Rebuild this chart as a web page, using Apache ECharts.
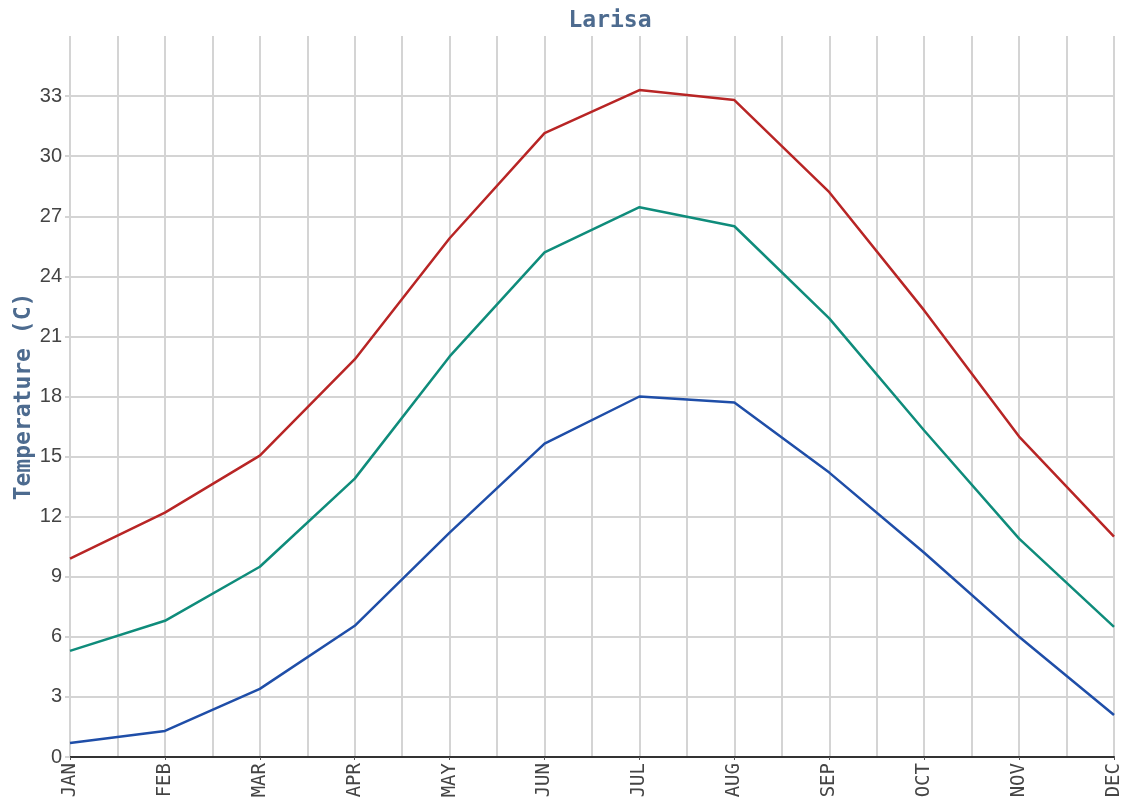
<!DOCTYPE html>
<html>
<head>
<meta charset="utf-8">
<script src="https://cdn.jsdelivr.net/npm/echarts@6/dist/echarts.min.js"></script>
<style>
html,body{margin:0;padding:0;background:#fff;}
#chart{width:1126px;height:805px;}
</style>
</head>
<body>
<div id="chart"></div>
<script>
var months = ['JAN','FEB','MAR','APR','MAY','JUN','JUL','AUG','SEP','OCT','NOV','DEC'];
var maxTemp  = [9.9, 12.2, 15.05, 19.85, 25.9, 31.15, 33.3, 32.8, 28.2, 22.3, 16.0, 11.0];
var meanTemp = [5.3, 6.8, 9.5, 13.9, 20.0, 25.2, 27.45, 26.5, 21.9, 16.3, 10.9, 6.5];
var minTemp  = [0.7, 1.3, 3.4, 6.55, 11.2, 15.65, 18.0, 17.7, 14.2, 10.2, 6.0, 2.1];

function pairs(arr){ return arr.map(function(v,i){ return [i, v]; }); }

var chart = echarts.init(document.getElementById('chart'));
var gridColor = '#d4d4d4';
chart.setOption({
  animation: false,
  backgroundColor: '#ffffff',
  title: {
    text: 'Larisa',
    left: 605,
    top: 5,
    textAlign: 'center',
    textStyle: {fontFamily: 'DejaVu Sans Mono', fontWeight: 'bold', fontSize: 23, color: '#4d6b8f'}
  },
  grid: {left: 70, right: 12, top: 36, bottom: 48, outerBoundsMode: 'none', containLabel: false},
  xAxis: {
    type: 'value',
    min: 0, max: 11, interval: 1,
    axisLine: {show: true, onZero: false, lineStyle: {color: '#333', width: 2}},
    axisTick: {show: true, length: 3, lineStyle: {color: '#555'}},
    minorTick: {show: false, splitNumber: 2},
    splitLine: {show: true, lineStyle: {color: gridColor, width: 2}},
    minorSplitLine: {show: true, lineStyle: {color: gridColor, width: 2}},
    axisLabel: {
      rotate: 90, margin: 6,
      fontFamily: 'DejaVu Sans Mono', fontSize: 19, color: '#444',
      formatter: function(v){ return months[Math.round(v)] || ''; }
    }
  },
  yAxis: {
    type: 'value',
    min: 0, max: 36, interval: 3,
    name: 'Temperature (C)',
    nameLocation: 'middle',
    nameGap: 34,
    nameMoveOverlap: false,
    nameTextStyle: {fontFamily: 'DejaVu Sans Mono', fontWeight: 'bold', fontSize: 23, color: '#4d6b8f'},
    axisLine: {show: false},
    axisTick: {show: true, length: 5, lineStyle: {color: gridColor, width: 2}},
    splitLine: {show: true, showMaxLine: false, lineStyle: {color: gridColor, width: 2}},
    axisLabel: {showMaxLabel: false, margin: 8, fontFamily: 'Liberation Sans', fontSize: 20, color: '#444'}
  },
  series: [
    {name: 'Max', type: 'line', data: pairs(maxTemp), showSymbol: false, lineStyle: {color: '#b82525', width: 2.5}, itemStyle: {color: '#b82525'}},
    {name: 'Mean', type: 'line', data: pairs(meanTemp), showSymbol: false, lineStyle: {color: '#0f8c7b', width: 2.5}, itemStyle: {color: '#0f8c7b'}},
    {name: 'Min', type: 'line', data: pairs(minTemp), showSymbol: false, lineStyle: {color: '#1f4ea8', width: 2.5}, itemStyle: {color: '#1f4ea8'}}
  ]
});
</script>
</body>
</html>
